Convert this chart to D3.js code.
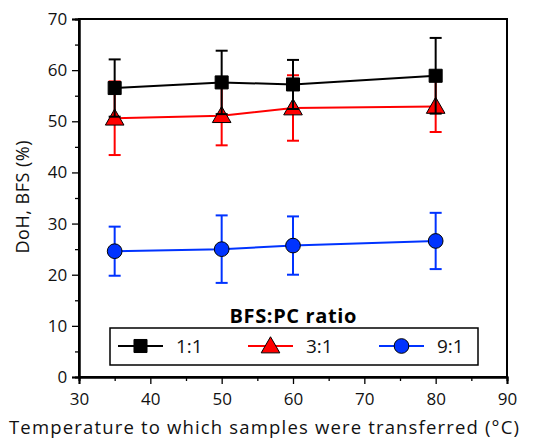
<!DOCTYPE html>
<html>
<head>
<meta charset="utf-8">
<script src="https://cdn.jsdelivr.net/npm/d3@7"></script>
<style>
  body { margin: 0; background: #fff; }
  text { font-family: "Open Sans", sans-serif; }
</style>
</head>
<body>
<div id="chart"></div>
<script>
// temperatures (x)
var temps = [35, 50, 60, 80];

// series values (DoH, BFS %) and error bars
var ratios = ["1:1", "3:1", "9:1"];
var mean11 = [56.5, 57.6, 57.2, 58.9];
var err11 = [5.6, 6.2, 4.8, 7.4];
var mean31 = [50.6, 51.1, 52.6, 52.9];
var err31 = [7.2, 5.8, 6.4, 5.0];
var mean91 = [24.6, 25.0, 25.7, 26.6];
var err91 = [4.8, 6.6, 5.7, 5.5];

var xTicks = [30, 40, 50, 60, 70, 80, 90];
var yTicks = [0, 10, 20, 30, 40, 50, 60, 70];

var colors = ["#000000", "#ff0000", "#0033ff"];
var shapes = [d3.symbolSquare, d3.symbolTriangle, d3.symbolCircle];

var width = 541, height = 441;
var margin = {left: 79, right: 34, top: 19, bottom: 64};

var svg = d3.select("#chart").append("svg")
    .attr("width", width)
    .attr("height", height);

var x = d3.scaleLinear().domain([30, 90]).range([margin.left, width - margin.right]);
var y = d3.scaleLinear().domain([0, 70]).range([height - margin.bottom, margin.top]);

// frame
svg.append("rect")
    .attr("x", x(30)).attr("y", y(70))
    .attr("width", x(90) - x(30)).attr("height", y(0) - y(70))
    .attr("fill", "none").attr("stroke", "#000").attr("stroke-width", 2);

// axes (major + minor)
var xAxis = svg.append("g").attr("transform", "translate(0," + y(0) + ")")
    .call(d3.axisBottom(x).tickValues(xTicks).tickSize(7).tickFormat(d3.format("d")));
svg.append("g").attr("transform", "translate(0," + y(0) + ")")
    .call(d3.axisBottom(x).tickValues(d3.range(35, 90, 10)).tickSize(4).tickFormat(""));
var yAxis = svg.append("g").attr("transform", "translate(" + x(30) + ",0)")
    .call(d3.axisLeft(y).tickValues(yTicks).tickSize(7).tickFormat(d3.format("d")));
svg.append("g").attr("transform", "translate(" + x(30) + ",0)")
    .call(d3.axisLeft(y).tickValues(d3.range(5, 70, 10)).tickSize(4).tickFormat(""));

svg.selectAll(".domain").attr("stroke-width", 2);
svg.selectAll(".tick line").attr("stroke-width", 1.3);
xAxis.selectAll("text").attr("font-size", 17).attr("fill", "#111").attr("dy", "1.05em");
yAxis.selectAll("text").attr("font-size", 17).attr("fill", "#111").attr("dx", "-0.1em");

// axis titles
svg.append("text")
    .attr("x", 264).attr("y", 434)
    .attr("text-anchor", "middle").attr("font-size", 18.5).attr("fill", "#111")
    .attr("textLength", 510).attr("lengthAdjust", "spacing")
    .text("Temperature to which samples were transferred (°C)");
svg.append("text")
    .attr("transform", "translate(29," + 197 + ") rotate(-90)")
    .attr("text-anchor", "middle").attr("font-size", 18).attr("fill", "#111")
    .attr("textLength", 113).attr("lengthAdjust", "spacing")
    .text("DoH, BFS (%)");

var series = [
  {name: ratios[0], mean: mean11, err: err11},
  {name: ratios[1], mean: mean31, err: err31},
  {name: ratios[2], mean: mean91, err: err91}
];

var line = d3.line().x(function (d) { return x(d.t); }).y(function (d) { return y(d.v); });

// draw bottom series first so 1:1 sits on top
[2, 1, 0].forEach(function (i) {
    var s = series[i];
    var pts = temps.map(function (t, j) { return {t: t, v: s.mean[j], e: s.err[j]}; });
    var g = svg.append("g");

    // error bars
    pts.forEach(function (p) {
        g.append("line")
            .attr("x1", x(p.t)).attr("x2", x(p.t))
            .attr("y1", y(p.v - p.e)).attr("y2", y(p.v + p.e))
            .attr("stroke", colors[i]).attr("stroke-width", 2);
        [p.v - p.e, p.v + p.e].forEach(function (v) {
            g.append("line")
                .attr("x1", x(p.t) - 6).attr("x2", x(p.t) + 6)
                .attr("y1", y(v)).attr("y2", y(v))
                .attr("stroke", colors[i]).attr("stroke-width", 2);
        });
    });

    g.append("path").datum(pts)
        .attr("d", line)
        .attr("fill", "none").attr("stroke", colors[i]).attr("stroke-width", 2);

    g.selectAll(".mk").data(pts).enter().append("path")
        .attr("transform", function (d) { return "translate(" + x(d.t) + "," + (y(d.v) + (i == 1 ? 1.5 : 0)) + ")"; })
        .attr("d", d3.symbol().type(shapes[i]).size(i == 1 ? 150 : 170))
        .attr("fill", colors[i]).attr("stroke", "#000").attr("stroke-width", 1);
});

// legend
svg.append("text")
    .attr("x", 293).attr("y", 323)
    .attr("text-anchor", "middle").attr("font-size", 20).attr("font-weight", "bold")
    .attr("textLength", 127).attr("lengthAdjust", "spacing")
    .text("BFS:PC ratio");

svg.append("rect")
    .attr("x", 110).attr("y", 328).attr("width", 368).attr("height", 37)
    .attr("fill", "#fff").attr("stroke", "#000").attr("stroke-width", 1.5);

var legX = [118, 248, 379];
series.forEach(function (s, i) {
    var lg = svg.append("g").attr("transform", "translate(" + legX[i] + ",346)");
    lg.append("line").attr("x1", 0).attr("x2", 45).attr("y1", 0).attr("y2", 0)
        .attr("stroke", colors[i]).attr("stroke-width", 2);
    lg.append("path")
        .attr("transform", "translate(22.5," + (i == 1 ? 1.5 : 0) + ")")
        .attr("d", d3.symbol().type(shapes[i]).size(i == 1 ? 150 : 170))
        .attr("fill", colors[i]).attr("stroke", "#000").attr("stroke-width", 1);
    lg.append("text").attr("x", 58).attr("y", 7)
        .attr("font-size", 19).attr("fill", "#111")
        .text(s.name);
});
</script>
</body>
</html>
